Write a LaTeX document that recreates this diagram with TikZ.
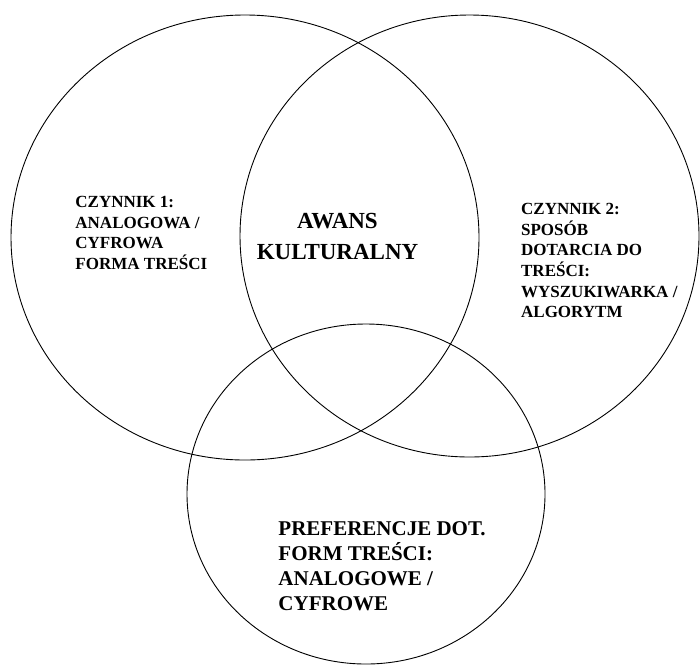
\documentclass[tikz,border=0pt]{standalone}
\usepackage{fontspec}
\setmainfont{Liberation Serif}
\usepackage{tikz}
\usetikzlibrary{positioning}

\tikzset{
  factor/.style={align=left, anchor=north west, inner sep=0pt,
    font=\bfseries\fontsize{17}{20.6}\selectfont},
  core/.style={align=center, anchor=north, inner sep=0pt,
    font=\bfseries\fontsize{23}{30.7}\selectfont},
  pref/.style={align=left, anchor=north west, inner sep=0pt,
    font=\bfseries\fontsize{21}{25.3}\selectfont}
}

\begin{document}
\begin{tikzpicture}[x=1pt, y=-1pt, line width=0.9pt]
    \useasboundingbox (0,0) rectangle (700,665);

    % Circles
    \draw (245,237.5) ellipse [x radius=234, y radius=222.5];
    \draw (469.5,236) ellipse [x radius=229.5, y radius=221];
    \draw (366,494) ellipse [x radius=179, y radius=170];

    % Labels
    \node [factor] (factorA) at (75,196) {CZYNNIK 1:\\ANALOGOWA /\\CYFROWA\\FORMA TREŚCI};
    \node [core] (advance) at (337.5,212.7) {AWANS\\KULTURALNY};
    \node [factor] (factorB) at (520.7,203) {CZYNNIK 2:\\SPOSÓB\\DOTARCIA DO\\TREŚCI:\\WYSZUKIWARKA /\\ALGORYTM};
    \node [pref] (prefs) at (278,520.7) {PREFERENCJE DOT.\\FORM TREŚCI:\\ANALOGOWE /\\CYFROWE};
\end{tikzpicture}
\end{document}
